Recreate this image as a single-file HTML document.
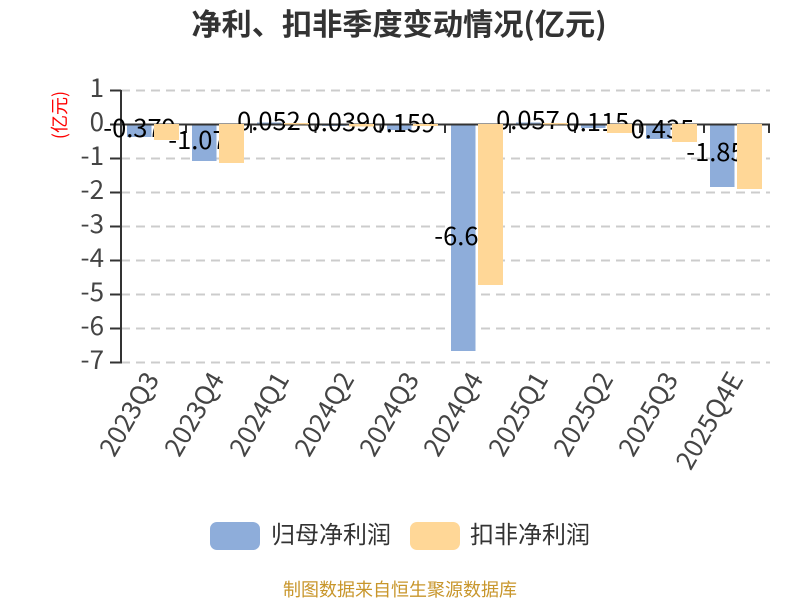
<!DOCTYPE html>
<html><head><meta charset="utf-8"><style>
html,body{margin:0;padding:0;background:#fff}
svg{display:block}
text{font-family:"Noto Sans CJK SC","WenQuanYi Zen Hei",sans-serif}
</style></head><body>
<svg width="800" height="600" viewBox="0 0 800 600" xmlns="http://www.w3.org/2000/svg">
<text x="399" y="35" text-anchor="middle" font-size="30.2" font-weight="700" fill="#333">净利、扣非季度变动情况(亿元)</text>
<text transform="translate(66,115) rotate(-90)" text-anchor="middle" font-size="18" fill="#f00">(亿元)</text>
<g stroke="#ccc" stroke-width="2" stroke-dasharray="9 6">
<path d="M121 90.5H770M121 158.5H770M121 192.5H770M121 226.5H770M121 260.5H770M121 294.5H770M121 328.5H770M121 362.5H770"/>
</g>
<g fill="#8eadda">
<rect x="127" y="124" width="24.5" height="13"/>
<rect x="192" y="124" width="24.5" height="37"/>
<rect x="257" y="122.5" width="24.5" height="2"/>
<rect x="322" y="124" width="24.5" height="2"/>
<rect x="387" y="124" width="24.5" height="6"/>
<rect x="451" y="124" width="24.5" height="227"/>
<rect x="516" y="122.5" width="24.5" height="2"/>
<rect x="581" y="124" width="24.5" height="4"/>
<rect x="646" y="124" width="24.5" height="15"/>
<rect x="710" y="124" width="24.5" height="63"/>
</g>
<path d="M110 90.5H121M110 124.5H121M110 158.5H121M110 192.5H121M110 226.5H121M110 260.5H121M110 294.5H121M110 328.5H121M110 362.5H121M121 90V363.5M121 124.5H770M186 124.5V133M251 124.5V133M315.500 124.500V133M380.500 124.500V133M445 124.500V133M510 124.500V133M575 124.500V133M640 124.500V133M704 124.500V133M769 124.500V133" stroke="#333" stroke-width="2" fill="none"/>
<g font-size="25.5" fill="#000" text-anchor="middle">
<text x="139.500" y="137">-0.379</text>
<text x="204.500" y="149">-1.072</text>
<text x="269" y="130">0.052</text>
<text x="334" y="131">-0.039</text>
<text x="399" y="132">-0.159</text>
<text x="463.500" y="245">-6.66</text>
<text x="528" y="129">0.057</text>
<text x="593" y="131">-0.115</text>
<text x="658" y="138">-0.435</text>
<text x="722.500" y="161">-1.852</text>
</g>
<g fill="#ffd797">
<rect x="154" y="124" width="25" height="16"/>
<rect x="219" y="124" width="25" height="39"/>
<rect x="284" y="123" width="25" height="1.500"/>
<rect x="349" y="124" width="25" height="2.500"/>
<rect x="413" y="124" width="25" height="2"/>
<rect x="478" y="124" width="25" height="161"/>
<rect x="543" y="123" width="25" height="1.500"/>
<rect x="607" y="124" width="25" height="9"/>
<rect x="672" y="124" width="25" height="18"/>
<rect x="737" y="124" width="25" height="65"/>
</g>
<g font-size="26" fill="#444" text-anchor="end">
<text x="104" y="97">1</text>
<text x="104" y="131">0</text>
<text x="104" y="165">-1</text>
<text x="104" y="199">-2</text>
<text x="104" y="233">-3</text>
<text x="104" y="267">-4</text>
<text x="104" y="301">-5</text>
<text x="104" y="335">-6</text>
<text x="104" y="369">-7</text>
</g>
<g font-size="26" fill="#444" text-anchor="end">
<text transform="translate(160,379) rotate(-60)">2023Q3</text>
<text transform="translate(225,379) rotate(-60)">2023Q4</text>
<text transform="translate(290,379) rotate(-60)">2024Q1</text>
<text transform="translate(355,379) rotate(-60)">2024Q2</text>
<text transform="translate(420,379) rotate(-60)">2024Q3</text>
<text transform="translate(484,379) rotate(-60)">2024Q4</text>
<text transform="translate(549,379) rotate(-60)">2025Q1</text>
<text transform="translate(614,379) rotate(-60)">2025Q2</text>
<text transform="translate(679,379) rotate(-60)">2025Q3</text>
<text transform="translate(744,379) rotate(-60)">2025Q4E</text>
</g>
<rect x="210" y="522" width="50" height="28" rx="7" fill="#8eadda"/>
<text x="271" y="543" font-size="24" fill="#333">归母净利润</text>
<rect x="410" y="522" width="50" height="28" rx="7" fill="#ffd797"/>
<text x="470" y="543" font-size="24" fill="#333">扣非净利润</text>
<text x="400" y="596" text-anchor="middle" font-size="18" fill="#c8962b">制图数据来自恒生聚源数据库</text>
</svg>
</body></html>
